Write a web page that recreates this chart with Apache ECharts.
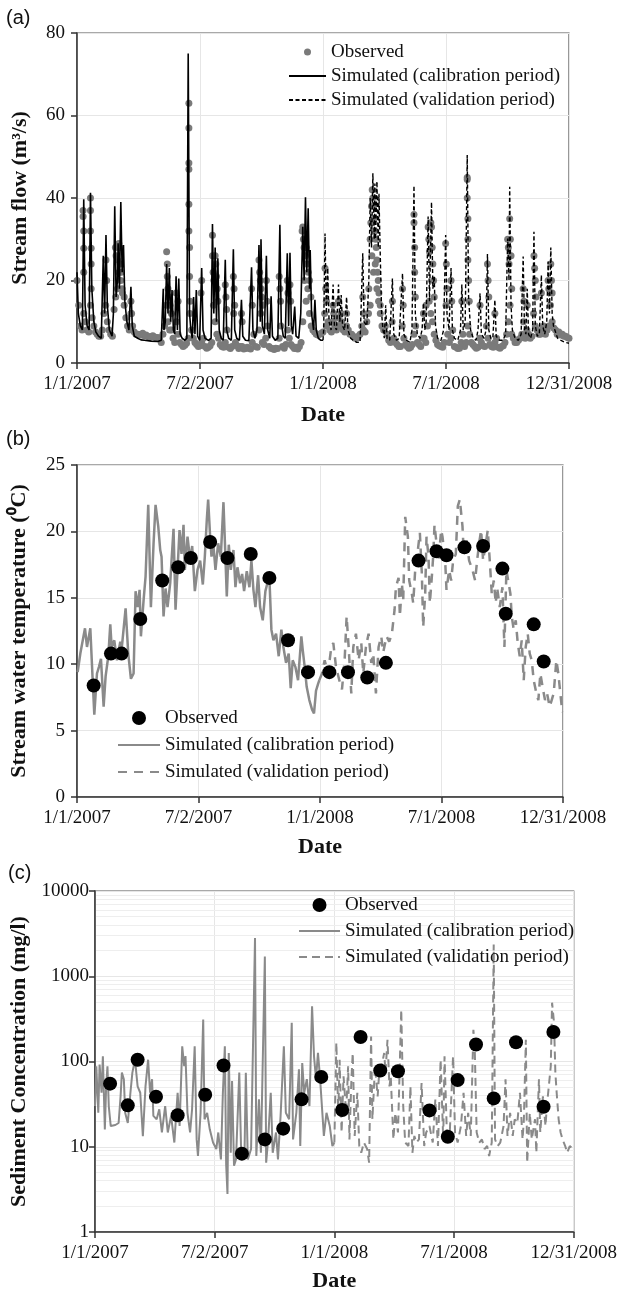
<!DOCTYPE html>
<html><head><meta charset="utf-8">
<script src="https://cdn.jsdelivr.net/npm/echarts@6/dist/echarts.min.js"></script>
<style>html,body{margin:0;padding:0;background:#fff}#chart{width:620px;height:1293px}</style>
</head><body><div id="chart"></div>
<script>
// ---------- shared x axis (days since 1/1/2007) ----------
const tickLabels = ["1/1/2007", "7/2/2007", "1/1/2008", "7/1/2008", "12/31/2008"];

// ---------- (a) stream flow ----------
const obsFlowStep = 5; // observed base readings every 5 days, second row offset by half a step
const obsFlowBase = [20,9,12,8,14,9,7,6.5,12,10,7,13,18,20,16,9,12,7.5,7,6.8,6.6,6.5,6.4,6.3,6.2,5,9,10,8,5,7,4.5,4.3,6,8,5,4,5,4,3.8,5,10,6,4,5,3.8,4,5,3.5,4,3.5,3.6,5,4,8,5,6,4,3.5,3.6,6,4,4.5,6,4,3.8,4,10,15,12,8,7,7,7.5,9,8,10,8,9,8,9,7,6.5,6,7,8,10,14,22,18,12,8,7,5,6,4.5,4,6,4,3.8,7,5,4,6,9,12,7,4.5,4,5,7,6,4,3.5,5,4,9,5,4,3.8,5,4,6,4,5,3.8,4,5,10,7,5,5.5,7,6,7,6.5,9,7,8,7,9,10,8,7.5,7,6.5,6];
const obsFlowBase2 = [14,8,10,7.5,11,7.5,6.5,8,14,8,6.5,16,22,17,11,8,9,7,6.9,7.2,6.8,6.2,6.6,6.1,6,7,14,8,6,10,5,4,4.8,12,6,4.5,4.2,6,3.6,4.2,14,7,4.5,3.8,8,3.5,12,4.2,4,3.4,3.8,3.4,7,3.8,12,4.5,9,3.6,3.3,3.5,9,3.6,8,4.5,3.5,3.4,5,20,18,9,7.5,6.8,7.2,12,10,7.5,9,11,10,7.5,8,7,6,6.5,9,7.5,12,26,24,15,9,9,5.5,10,5,4,9,4.5,3.6,4.5,9,4.5,6,5,15,10,5.5,4.2,3.8,14,5,8,3.8,3.6,7,5,7,4.5,3.6,6,4.2,9,4.5,3.8,6,3.6,4.2,7,14,6,5,6,10,8,6,12,8,7,9,8,14,8.5,7,6.8,6.5,6.2];
const obsFlowPeaks = [[9,37],[9,35.5],[10,32],[10,27.8],[10,22],[20,40],[20,37],[20,32],[21,27.8],[21,24],[21,18],[43,25],[44,20],
 [57,28],[58,26],[60,25],[62,29],[63,28],[64,24],[66,22],[67,18],[70,14],[80,15],[81,12],
 [133,27],[134,24],[134,21],[135,18],[136,16],[138,14],[140,12],[147,17],[150,15],
 [166,63],[166,57],[166,48.5],[166,47],[166,38.5],[166,32],[167,28],[167,21],[168,15],[184,17],[185,20],
 [201,31],[201,26],[202,22],[203,20],[205,26],[206,24],[207,21],[208,18],[209,15],[220,19],[221,16],[222,13],
 [232,21],[233,18],[234,14],[244,12],[245,10],[259,18],[260,14],[270,25],[271,22],[272,20],[273,18],[274,16],[276,14],
 [281,20],[282,15],[300,21],[301,18],[302,15],[312,20],[313,17],[316,19],[317,15],
 [334,32],[335,33],[336,30],[337,28],[339,26],[340,28],[341,24],[343,22],[345,20],[347,16],
 [368,23],[369,18],[370,15],[380,14],[381,12],[388,15],[392,12],[400,12],[424,16],[425,12],
 [433,18],[435,30],[436,34],[437,38],[438,42],[439,40],[440,38],[441,35],[442,32],[443,30],[444,28],[445,25],[446,22],[447,20],[448,17],[450,14],
 [468,15],[483,18],[484,14],[500,36],[500,34],[501,28],[501,22],[502,16],
 [514,12],[518,14],[521,33],[522,30],[523,27],[525,34],[526,33],[527,28],[528,24],[529,20],[530,16],
 [547,29],[548,24],[549,18],[555,20],[556,15],[571,15],
 [579,45],[579,44.5],[579,40],[580,35],[580,30],[580,25],[581,20],[582,15],[598,14],[609,24],[610,20],[611,16],[620,12],
 [639,30],[640,28],[641,24],[642,35],[643,30],[644,26],[645,18],[662,18],[663,15],[668,14],
 [678,26],[679,23],[680,20],[681,16],[689,17],[699,20],[700,18],[703,24],[704,20],[705,17]];
const simFlowCal = [[0,22],[2,12],[5,9],[8,8],[10,39.7],[12,14],[15,9],[18,8],[20,41.3],[22,18],[25,10],[28,7.5],[32,6.5],[36,6],[39,26],[41,12],[43,31],[45,14],[48,8],[52,6.5],[54,12],[56,38],[58,16],[60,20],[61,29],[63,18],[65,39],[67,22],[69,28.6],[71,15],[74,10],[77,8],[80,18.5],[82,9],[85,6.5],[90,6],[95,5.6],[100,5.5],[110,5.3],[120,5.2],[125,5.5],[128,18],[129,8],[131,10],[133,24],[135,12],[137,23],[139,10],[141,17.7],[143,8],[145,7],[147,21],[149,8],[151,20.5],[153,7],[156,6],[160,5.5],[163,6],[165,75],[167,12],[169,8],[171,6],[173,16],[175,7],[177,17.7],[179,6.5],[182,5.5],[185,23],[187,8],[190,6],[195,5.5],[199,6],[201,33.7],[203,12],[205,28],[207,10],[209,25.4],[211,8],[214,6],[217,5.5],[220,25],[222,8],[225,6],[229,5.5],[232,27.6],[234,8],[237,6],[241,5.5],[244,15.3],[246,6.5],[250,5.5],[255,5.4],[259,23.2],[261,8],[264,6],[267,8],[270,28.6],[272,10],[273,30],[275,9],[278,7],[281,26],[283,8],[286,6],[288,16.2],[290,6.5],[294,5.5],[298,6],[301,33.5],[303,10],[306,6.5],[309,6],[312,26.6],[314,9],[316,26.7],[318,9],[320,7],[323,13.7],[325,6.5],[329,6],[332,12],[335,33],[337,20],[339,40.2],[341,22],[343,37.5],[345,18],[346,27.4],[348,12],[351,8],[353,15.3],[355,8],[358,6],[362,5.5],[365,5.5]];
const simFlowVal = [[365,5.5],[366,8],[368,31.4],[370,12],[372,23],[374,10],[377,8],[380,19],[382,9],[385,8],[388,19],[390,10],[392,16.5],[394,9],[397,8],[400,16],[402,8],[406,6],[410,5.5],[415,5],[420,5],[424,26.6],[426,10],[430,9],[433,20],[435,40],[437,28],[439,46],[441,30],[442,43.5],[443,30],[445,44],[447,28],[448,41],[450,25.8],[452,12],[454,8],[456,6],[458,14],[460,6],[464,5.5],[468,20.5],[470,7],[474,5.5],[478,6],[483,21.7],[485,7],[489,5.5],[494,5],[497,8],[500,43],[502,12],[505,7],[509,6],[512,8],[514,14.5],[516,8],[518,10],[521,35.5],[523,15],[526,39],[528,18],[530,21],[532,9],[535,6],[540,5.5],[544,8],[547,31],[549,12],[552,8],[555,23],[557,8],[560,6],[565,5.5],[569,8],[571,19],[573,8],[576,10],[579,50.4],[581,16],[584,8],[588,6],[592,5.5],[595,8],[598,16.9],[600,7],[604,6],[607,8],[609,26.4],[611,8],[614,6],[617,6],[620,15.3],[622,6.5],[627,5.5],[632,5.5],[636,7],[639,30.2],[641,20],[642,42.7],[644,14],[646,8],[650,6],[655,5.5],[659,7],[662,25.8],[664,8],[666,7],[668,18],[670,7],[673,6],[676,8],[678,31.8],[680,9],[683,6.5],[686,7],[689,21.3],[691,9],[694,7],[697,10],[699,24.6],[701,12],[703,28],[705,12],[707,9],[709,8],[713,6],[718,5.5],[724,5],[730,4.8]];

// ---------- (b) stream water temperature ----------
const obsTemp = [[25,8.4],[51,10.8],[67,10.8],[95,13.4],[128,16.3],[152,17.3],[171,18.0],[200,19.2],[226,18.0],[261,18.3],[289,16.5],[317,11.8],[347,9.4],[379,9.4],[407,9.4],[436,9.0],[464,10.1],[513,17.8],[540,18.5],[555,18.2],[582,18.8],[610,18.9],[639,17.2],[644,13.8],[686,13.0],[701,10.2]];
const simTempCal = [[1,9.4],[5,10.8],[12,12.7],[15,11.3],[20,12.7],[24,8.3],[26,6.2],[30,9.3],[33,9.8],[36,10.4],[40,6.8],[43,9.1],[47,10.6],[50,13.0],[52,11.3],[56,11.8],[60,10.3],[65,11.7],[67,11.1],[73,14.2],[77,10.8],[81,8.9],[85,9.3],[88,15.5],[91,14.3],[94,15.6],[96,12.1],[100,14.8],[103,16.6],[107,22.0],[111,14.3],[115,19.1],[118,22.0],[122,20.4],[125,18.6],[127,18.1],[130,13.6],[133,15.7],[136,14.3],[140,16.1],[142,17.8],[145,20.2],[148,14.1],[151,17.1],[154,20.1],[157,18.3],[160,20.5],[162,17.1],[166,19.6],[170,17.8],[173,18.9],[177,15.5],[181,17.1],[185,17.8],[189,16.0],[192,18.1],[195,20.9],[197,22.4],[200,19.6],[202,18.1],[205,18.9],[208,17.1],[212,19.1],[216,18.1],[220,22.2],[222,19.4],[225,15.1],[228,19.0],[231,17.1],[235,18.6],[238,15.8],[241,17.3],[245,16.1],[248,16.8],[251,15.5],[255,17.0],[259,15.8],[262,17.8],[265,15.6],[268,14.3],[272,16.7],[275,14.3],[279,13.3],[283,15.5],[287,16.3],[289,16.5],[292,12.6],[295,11.8],[299,12.3],[303,10.6],[307,12.6],[310,11.3],[314,10.1],[318,10.8],[321,8.2],[324,10.3],[328,9.8],[332,8.8],[337,12.1],[339,11.1],[342,9.8],[345,8.3],[349,7.3],[353,6.6],[356,6.3],[359,8.0],[362,8.5],[364,8.8]];
const simTempVal = [[364,8.8],[368,9.3],[372,10.3],[377,9.3],[382,11.3],[385,11.6],[389,9.8],[394,8.8],[398,8.1],[402,10.3],[405,13.6],[408,11.3],[412,7.8],[415,11.3],[419,12.3],[423,10.3],[427,11.6],[430,9.3],[434,11.3],[438,12.3],[442,10.1],[445,10.8],[449,7.8],[453,11.3],[457,12.1],[460,10.9],[465,12.1],[469,11.7],[473,12.3],[477,14.1],[479,15.8],[483,16.5],[485,13.6],[488,16.1],[490,14.8],[493,21.1],[497,19.6],[499,16.3],[503,15.3],[505,14.6],[508,17.1],[512,18.6],[515,19.9],[518,16.8],[520,12.8],[523,15.3],[525,19.6],[528,18.1],[530,14.6],[533,16.6],[535,18.1],[537,20.5],[540,19.1],[543,17.8],[547,20.1],[549,19.6],[553,17.8],[555,15.6],[559,17.1],[562,16.3],[565,17.8],[569,18.3],[572,21.9],[575,22.4],[579,20.4],[581,18.3],[585,19.4],[589,17.8],[594,17.1],[598,16.3],[601,17.8],[604,19.1],[607,20.1],[610,17.8],[614,19.1],[617,20.1],[620,17.8],[623,15.3],[626,16.3],[629,14.6],[631,15.8],[635,14.3],[639,15.8],[642,11.3],[645,17.1],[648,17.1],[651,15.3],[653,13.6],[656,12.6],[659,13.3],[662,11.6],[665,10.6],[668,11.8],[671,8.8],[674,11.3],[677,12.3],[680,10.8],[683,10.3],[686,8.8],[690,7.8],[693,7.3],[696,9.3],[700,8.1],[703,7.3],[706,7.8],[710,6.8],[713,7.3],[716,7.8],[720,10.3],[723,9.3],[726,7.8],[729,6.4]];

// ---------- (c) sediment concentration ----------
const obsSed = [[23,55],[50,30.6],[65,105],[93,38.6],[126,23.4],[168,40.7],[196,89.8],[224,8.3],[259,12.2],[287,16.3],[315,36],[345,66],[377,27],[405,194],[435,78.5],[462,77],[510,26.7],[538,13.1],[553,60.5],[581,158],[608,36.9],[642,168],[684,29.5],[699,222]];
const simSedCal = [[0,30],[2,88],[5,25],[7,92],[10,43],[12,115],[15,16],[17,51],[19,88],[21,30],[24,17.5],[26,18.3],[31,18],[36,19],[39,39],[41,74],[44,62],[46,25],[50,19],[54,43],[57,74],[61,105],[65,51],[69,43],[73,13.3],[77,51],[81,105],[84,43],[87,62],[89,23],[94,21],[98,27.5],[102,14.7],[107,30],[111,14.7],[116,23],[121,11.2],[126,43],[129,17.5],[133,151],[136,88],[138,116],[141,25],[145,14.7],[148,27.5],[152,151],[155,12.2],[157,7.8],[161,25],[165,310],[167,21],[171,25],[175,16],[180,11.2],[185,9.4],[188,14.7],[192,7.1],[195,43],[198,151],[200,6.2],[202,2.8],[204,126],[207,8.5],[209,59],[212,6],[215,7.1],[220,74],[223,7.8],[228,8.5],[230,74],[233,7.1],[238,9.4],[244,2800],[246,7.8],[250,36],[253,8.5],[259,1700],[261,6.5],[264,12.2],[268,43],[271,8.5],[276,14.7],[279,7.1],[283,23],[288,151],[291,25],[296,21],[300,284],[302,12.2],[307,25],[311,81],[313,10.2],[316,96],[319,43],[323,62],[327,30],[331,445],[334,115],[337,62],[340,126],[343,67],[346,30],[349,13.4],[353,25],[358,17.5],[362,10.2],[365,11.2]];
const simSedVal = [[365,11.2],[368,166],[371,25],[373,105],[376,14.7],[379,67],[383,25],[386,88],[388,12.2],[391,62],[393,126],[396,13.4],[400,43],[403,10.2],[406,8.5],[410,11.2],[415,9.4],[418,6.5],[421,197],[423,21],[427,88],[431,39],[433,67],[437,88],[441,126],[443,74],[446,180],[449,51],[451,67],[455,12.2],[458,25],[462,14.7],[467,405],[470,30],[473,11.2],[478,10.2],[481,51],[484,8.5],[487,13.4],[490,11.2],[494,12.2],[498,56],[502,10.2],[505,14.7],[510,17.5],[515,11.2],[519,36],[523,10.2],[527,105],[531,12.2],[533,115],[537,11.2],[541,14.7],[546,115],[549,14.7],[553,11.2],[558,17.5],[562,43],[566,13.4],[569,25],[573,13.4],[577,236],[579,151],[582,14.7],[586,11.2],[590,12.2],[594,9.4],[598,10.2],[601,7.8],[605,11.2],[608,2350],[610,12.2],[614,10.2],[618,11.2],[623,17.5],[626,62],[629,13.4],[633,25],[637,13.4],[640,21],[644,19],[648,43],[652,12.2],[654,21],[657,180],[659,6.5],[663,25],[666,12.2],[671,21],[673,8.5],[677,62],[679,14.7],[683,39],[687,17.5],[689,30],[692,51],[695,88],[697,490],[700,284],[702,74],[704,43],[707,21],[710,14.7],[713,12.2],[717,10.2],[720,8.5],[724,10.2],[729,9.4]];
const minorGridSed = [2,3,4,5,6,7,8,9,20,30,40,50,60,70,80,90,200,300,400,500,600,700,800,900,2000,3000,4000,5000,6000,7000,8000,9000];

const legendText = {
  a_obs: 'Observed', a_cal: 'Simulated (calibration period)', a_val: 'Simulated (validation period)',
  b_obs: 'Observed', b_cal: 'Simulated (calibration period)', b_val: 'Simulated (validation period)',
  c_obs: 'Observed', c_cal: 'Simulated (calibration period)', c_val: 'Simulated (validation period)'
};

const serif = '"Liberation Serif", "Times New Roman", serif';
const axisColor = '#333';
const gridLine = '#e6e6e6';

function xAxis(i, nameGap) {
  return {
    type: 'value', gridIndex: i, min: 0, max: 730, interval: 182.5,
    name: 'Date', nameLocation: 'middle', nameGap: nameGap,
    nameTextStyle: {fontFamily: serif, fontSize: 22, fontWeight: 'bold', color: '#111'},
    axisLine: {show: true, onZero: false, lineStyle: {color: axisColor, width: 1.5}},
    axisTick: {show: true, length: 6, lineStyle: {color: axisColor, width: 1.5}},
    axisLabel: {fontFamily: serif, fontSize: 19, color: '#111', margin: 12,
      showMinLabel: true, showMaxLabel: true, hideOverlap: false,
      formatter: v => tickLabels[Math.round(v / 182.5)]},
    splitLine: {show: true, lineStyle: {color: gridLine, width: 1}}
  };
}
function yCommon(i, name, nameGap, margin) {
  return {
    gridIndex: i, name: name, nameLocation: 'middle', nameGap: nameGap,
    nameTextStyle: {fontFamily: serif, fontSize: 22, fontWeight: 'bold', color: '#111'},
    axisLine: {show: true, onZero: false, lineStyle: {color: axisColor, width: 1.5}},
    axisTick: {show: true, length: 6, lineStyle: {color: axisColor, width: 1.5}},
    axisLabel: {fontFamily: serif, fontSize: 19, color: '#111', margin: margin},
    splitLine: {show: true, lineStyle: {color: gridLine, width: 1}}
  };
}
function legend(names, left, top, itemWidth, itemHeight, itemGap) {
  return {
    data: names.map((n, k) => k === 0 ? {name: n} : {name: n, itemStyle: {opacity: 0}}),
    orient: 'vertical', left: left, top: top, padding: 0, z: 10,
    itemWidth: itemWidth, itemHeight: itemHeight, itemGap: itemGap, selectedMode: false,
    formatter: n => legendText[n],
    textStyle: {fontFamily: serif, fontSize: 19, color: '#111', lineHeight: 22}
  };
}

const labelFont = {fontFamily: '"Liberation Sans", Arial, sans-serif', fontSize: 20, fontWeight: 'normal', color: '#111'};

const option = {
  backgroundColor: '#fff',
  animation: false,
  title: [
    {text: '(a)', left: 6, top: 8, padding: 0, textStyle: labelFont},
    {text: '(b)', left: 6, top: 429, padding: 0, textStyle: labelFont},
    {text: '(c)', left: 8, top: 863, padding: 0, textStyle: labelFont}
  ],
  grid: [
    {left: 77, top: 33, width: 492, height: 330, show: true, borderColor: '#555', borderWidth: 1.2, backgroundColor: 'transparent'},
    {left: 75, top: 465, width: 488, height: 332, show: true, borderColor: '#555', borderWidth: 1.2, backgroundColor: 'transparent'},
    {left: 94, top: 891, width: 483, height: 342, show: true, borderColor: '#555', borderWidth: 1.2, backgroundColor: 'transparent'}
  ],
  xAxis: [xAxis(0, 41), xAxis(1, 39), xAxis(2, 38)],
  yAxis: [
    Object.assign(yCommon(0, 'Stream flow (m³/s)', 46, 12), {type: 'value', min: 0, max: 80, interval: 20}),
    Object.assign(yCommon(1, 'Stream water temperature (⁰C)', 47, 12), {type: 'value', min: 0, max: 25, interval: 5}),
    (function () {
      const y = Object.assign(yCommon(2, 'Sediment Concentration (mg/l)', 65, 6), {type: 'log', logBase: 10, min: 1, max: 10000});
      y.axisLabel.formatter = v => String(Math.round(v));
      return y;
    })()
  ],
  legend: [
    legend(['a_obs', 'a_cal', 'a_val'], 288, 41, 37, 7, 2),
    legend(['b_obs', 'b_cal', 'b_val'], 117, 707, 42, 14, 5),
    legend(['c_obs', 'c_cal', 'c_val'], 298, 894, 41, 14, 4)
  ],
  series: [
    // (a)
    {name: 'a_obs', type: 'scatter', xAxisIndex: 0, yAxisIndex: 0, symbol: 'circle', symbolSize: 7,
      itemStyle: {color: '#7a7a7a', opacity: 1}, z: 1,
      data: obsFlowBase.map((v, i) => [i * obsFlowStep, v])
        .concat(obsFlowBase2.map((v, i) => [i * obsFlowStep + obsFlowStep / 2, v]))
        .concat(obsFlowPeaks)},
    {name: 'a_cal', type: 'line', xAxisIndex: 0, yAxisIndex: 0, symbol: 'none', z: 3,
      lineStyle: {color: '#000', width: 1.6}, itemStyle: {color: '#000'}, data: simFlowCal},
    {name: 'a_val', type: 'line', xAxisIndex: 0, yAxisIndex: 0, symbol: 'none', z: 3,
      lineStyle: {color: '#000', width: 1.4, type: [4, 2.5]}, itemStyle: {color: '#000'}, data: simFlowVal},
    // (b)
    {name: 'b_cal', type: 'line', xAxisIndex: 1, yAxisIndex: 1, symbol: 'none', z: 2,
      lineStyle: {color: '#8a8a8a', width: 2.5}, itemStyle: {color: '#8a8a8a'}, data: simTempCal},
    {name: 'b_val', type: 'line', xAxisIndex: 1, yAxisIndex: 1, symbol: 'none', z: 2,
      lineStyle: {color: '#8a8a8a', width: 2.5, type: [9, 7]}, itemStyle: {color: '#8a8a8a'}, data: simTempVal},
    {name: 'b_obs', type: 'scatter', xAxisIndex: 1, yAxisIndex: 1, symbol: 'circle', symbolSize: 14, z: 4,
      itemStyle: {color: '#000', opacity: 1}, data: obsTemp},
    // (c)
    {name: 'c_minor', type: 'line', xAxisIndex: 2, yAxisIndex: 2, data: [], silent: true, z: 0,
      markLine: {silent: true, z: 0, symbol: ['none', 'none'], label: {show: false},
        lineStyle: {color: '#eeeeee', width: 1, type: 'solid'},
        data: minorGridSed.map(v => ({yAxis: v}))}},
    {name: 'c_cal', type: 'line', xAxisIndex: 2, yAxisIndex: 2, symbol: 'none', z: 2,
      lineStyle: {color: '#8a8a8a', width: 2}, itemStyle: {color: '#8a8a8a'}, data: simSedCal},
    {name: 'c_val', type: 'line', xAxisIndex: 2, yAxisIndex: 2, symbol: 'none', z: 2,
      lineStyle: {color: '#8a8a8a', width: 2, type: [8, 5]}, itemStyle: {color: '#8a8a8a'}, data: simSedVal},
    {name: 'c_obs', type: 'scatter', xAxisIndex: 2, yAxisIndex: 2, symbol: 'circle', symbolSize: 14, z: 4,
      itemStyle: {color: '#000', opacity: 1}, data: obsSed}
  ]
};

const chart = echarts.init(document.getElementById('chart'), null, {renderer: 'canvas'});
chart.setOption(option);
</script>
</body></html>
